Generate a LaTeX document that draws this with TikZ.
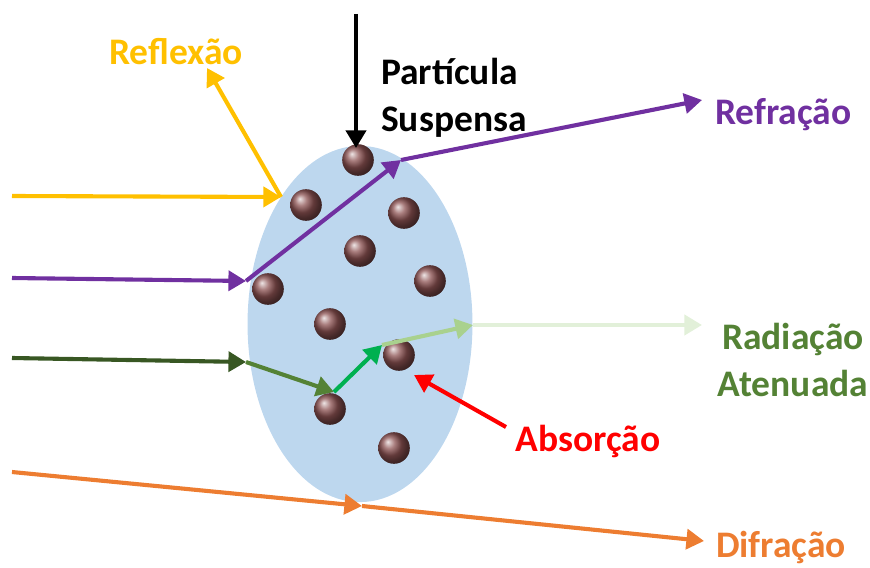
\documentclass[tikz,border=0pt]{standalone}
\usepackage{fontspec}
\setmainfont{Carlito}
\usepackage{tikz}
\usetikzlibrary{arrows.meta,shapes.geometric}

\definecolor{amarelo}{HTML}{FFC000}
\definecolor{roxo}{HTML}{7030A0}
\definecolor{verdeEscuro}{HTML}{385723}
\definecolor{verdeMedio}{HTML}{548235}
\definecolor{verdeVivo}{HTML}{00B050}
\definecolor{verdeClaro}{HTML}{A9D18E}
\definecolor{verdePalido}{HTML}{E2F0D9}
\definecolor{laranja}{HTML}{ED7D31}
\definecolor{azulMeio}{HTML}{BDD7EE}
\definecolor{marrom}{RGB}{140,82,82}

\begin{document}
\begin{tikzpicture}[
    x=0.03cm, y=-0.03cm,
    >={Triangle[length=15pt,width=17pt]},
    suspension/.style={ellipse,fill=azulMeio,draw=none,minimum width=192pt,minimum height=304pt,inner sep=0pt},
    particle/.style={circle,inner sep=0pt,minimum size=27pt,shading=ball,ball color=marrom},
    ray/.style={->,line width=3.5pt},
    label/.style={font=\fontsize{32}{40}\selectfont\bfseries,inner sep=0pt}
]
\useasboundingbox (0,0) rectangle (870,568);

% Meio com partículas em suspensão
\node[suspension] (meio) at (360,324) {};

\node[particle] (p1) at (358,160) {};
\node[particle] (p2) at (306,205) {};
\node[particle] (p3) at (404,213) {};
\node[particle] (p4) at (360,251) {};
\node[particle] (p5) at (430,281) {};
\node[particle] (p6) at (268,289) {};
\node[particle] (p7) at (330,324) {};
\node[particle] (p8) at (399,355) {};
\node[particle] (p9) at (330,409) {};
\node[particle] (p10) at (394,448) {};

% Rótulos
\node[label,anchor=west,align=left] (particula) at (381,98) {Partícula\\Suspensa};
\node[label,text=amarelo] (reflexao) at (176,52) {Reflexão};
\node[label,text=roxo,anchor=west] (refracao) at (715,115) {Refração};
\node[label,text=verdeMedio,align=center] (radiacao) at (793,360) {Radiação\\Atenuada};
\node[label,text=red] (absorcao) at (588,441) {Absorção};
\node[label,text=laranja] (difracao) at (781,547) {Difração};

% Pontos dos raios
\coordinate (topo) at (356,14);
\coordinate (alvo) at (356,148);

\coordinate (y0) at (12,196);
\coordinate (y1) at (281,197);
\coordinate (y2) at (207,68);

\coordinate (r0) at (12,278);
\coordinate (r1) at (246,281);
\coordinate (r2) at (401,160);
\coordinate (r3) at (702,100);

\coordinate (g0) at (12,358);
\coordinate (g1) at (246,362);
\coordinate (g2) at (334,392);
\coordinate (g3) at (382,345);
\coordinate (g4) at (473,325);
\coordinate (g5) at (702,325);

\coordinate (a0) at (506,427);
\coordinate (a1) at (414,375);

\coordinate (d0) at (12,472);
\coordinate (d1) at (362,506);
\coordinate (d2) at (704,541);

% Raios
\draw[ray,black] (topo) -- (alvo);

\draw[ray,amarelo] (y0) -- (y1);
\draw[ray,amarelo] (y1) -- (y2);

\draw[ray,roxo] (r0) -- (r1);
\draw[ray,roxo] (r1) -- (r2);
\draw[ray,roxo] (r2) -- (r3);

\draw[ray,verdeEscuro] (g0) -- (g1);
\draw[ray,verdeMedio] (g1) -- (g2);
\draw[ray,verdeVivo] (g2) -- (g3);
\draw[ray,verdeClaro] (g3) -- (g4);
\draw[ray,verdePalido] (g4) -- (g5);

\draw[ray,red] (a0) -- (a1);

\draw[ray,laranja] (d0) -- (d1);
\draw[ray,laranja] (d1) -- (d2);

\end{tikzpicture}
\end{document}
